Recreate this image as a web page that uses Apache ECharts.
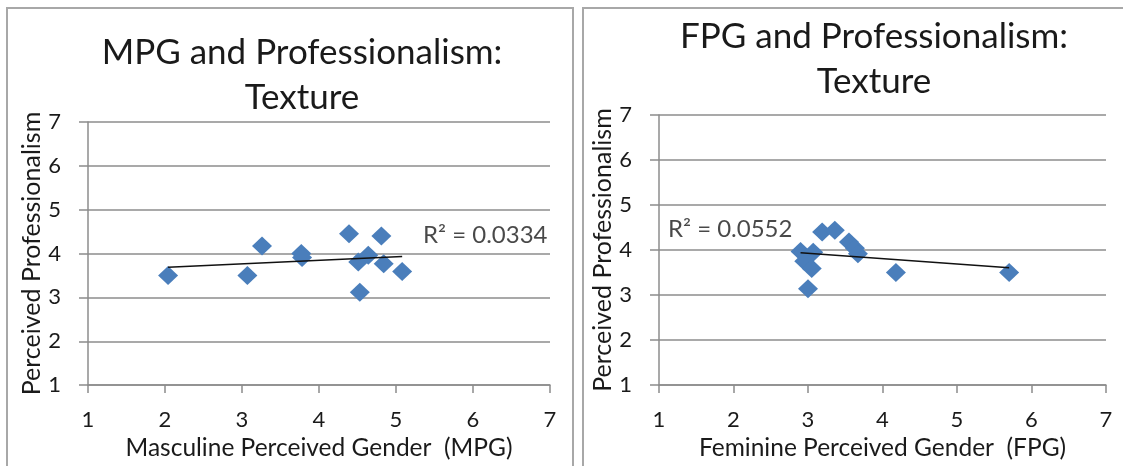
<!DOCTYPE html>
<html>
<head>
    <meta charset="utf-8">
    <title>Professionalism: Texture</title>
    <style>
        html, body { margin: 0; padding: 0; background: #fff; }
        #container { width: 1123px; height: 466px; }
    </style>
</head>
<body>
    <div id="container"></div>
</body>
<script src="https://cdn.jsdelivr.net/npm/echarts@6/dist/echarts.min.js"></script>
<script type="text/javascript">
    // masculine perceived gender vs professionalism
    var mpgX = [2.04, 3.07, 3.26, 3.77, 3.78, 4.39, 4.81, 4.51, 4.64, 4.53, 4.84, 5.08];
    var mpgY = [3.50, 3.50, 4.17, 4.00, 3.91, 4.45, 4.40, 3.81, 3.96, 3.12, 3.77, 3.59];
    // feminine perceived gender vs professionalism
    var fpgX = [5.70, 4.18, 3.00, 3.19, 3.36, 3.55, 3.63, 3.67, 2.90, 3.07, 2.95, 3.05];
    var fpgY = [3.50, 3.50, 3.14, 4.40, 4.44, 4.18, 4.04, 3.92, 3.97, 3.95, 3.75, 3.59];
    var r2Text = ['R\u00b2 = 0.0334', 'R\u00b2 = 0.0552'];
    var titles = ['MPG and Professionalism:\nTexture', 'FPG and Professionalism:\nTexture'];
    var xNames = ['Masculine Perceived Gender  (MPG)', 'Feminine Perceived Gender  (FPG)'];
    var yName = 'Perceived Professionalism';

    var FONT = 'Lato';
    var GRID_COLOR = '#8c8c8c';
    var TEXT_COLOR = '#1a1a1a';

    function pairs(xs, ys) {
        return xs.map(function (x, i) { return [x, ys[i]]; });
    }

    // least squares line across the range of the data
    function trend(xs, ys) {
        var n = xs.length, mx = 0, my = 0;
        for (var i = 0; i < n; i++) { mx += xs[i]; my += ys[i]; }
        mx /= n; my /= n;
        var sxy = 0, sxx = 0;
        for (var j = 0; j < n; j++) {
            sxy += (xs[j] - mx) * (ys[j] - my);
            sxx += (xs[j] - mx) * (xs[j] - mx);
        }
        var b = sxy / sxx, a = my - b * mx;
        var lo = Math.min.apply(null, xs), hi = Math.max.apply(null, xs);
        return [[lo, a + b * lo], [hi, a + b * hi]];
    }

    function xAxis(i) {
        return {
            gridIndex: i, type: 'value', min: 1, max: 7, interval: 1,
            name: xNames[i], nameLocation: 'middle', nameGap: 46,
            nameTextStyle: { fontFamily: FONT, fontSize: 24.5, color: TEXT_COLOR },
            axisLine: { lineStyle: { color: GRID_COLOR, width: 1.5 } },
            axisTick: { show: true, inside: false, length: 8, lineStyle: { color: GRID_COLOR, width: 1.5 } },
            axisLabel: { fontFamily: FONT, fontSize: 22, color: TEXT_COLOR, margin: 24 },
            splitLine: { show: false }
        };
    }

    function yAxis(i) {
        return {
            gridIndex: i, type: 'value', min: 1, max: 7, interval: 1,
            name: yName, nameLocation: 'middle', nameGap: 43, nameRotate: 90,
            nameTextStyle: { fontFamily: FONT, fontSize: 25, color: TEXT_COLOR },
            axisLine: { show: true, lineStyle: { color: GRID_COLOR, width: 1.5 } },
            axisTick: { show: true, inside: false, length: 9, lineStyle: { color: GRID_COLOR, width: 1.5 } },
            axisLabel: { fontFamily: FONT, fontSize: 22, color: TEXT_COLOR, margin: 27 },
            splitLine: { show: true, lineStyle: { color: GRID_COLOR, width: 1.5 } }
        };
    }

    function points(i, xs, ys) {
        return {
            type: 'scatter', xAxisIndex: i, yAxisIndex: i,
            symbol: 'diamond', symbolSize: [20, 19],
            itemStyle: { color: '#4a7ebb', opacity: 1 },
            data: pairs(xs, ys), z: 3
        };
    }

    function trendLine(i, xs, ys) {
        return {
            type: 'line', xAxisIndex: i, yAxisIndex: i,
            data: trend(xs, ys), symbol: 'none',
            lineStyle: { color: '#111', width: 1.5 }, z: 4
        };
    }

    function r2Label(i, at) {
        return {
            type: 'scatter', xAxisIndex: i, yAxisIndex: i,
            data: [at], symbolSize: 0, silent: true,
            label: {
                show: true, position: 'right', distance: 0,
                formatter: r2Text[i],
                fontFamily: FONT, fontSize: 24, color: TEXT_COLOR
            }
        };
    }

    var dom = document.getElementById('container');
    var myChart = echarts.init(dom);

    myChart.setOption({
        animation: false,
        backgroundColor: '#fff',
        title: [{
            text: titles[0], left: 297, top: 25, textAlign: 'center',
            textStyle: { fontFamily: FONT, fontSize: 35, fontWeight: 'normal', color: TEXT_COLOR, lineHeight: 45 }
        }, {
            text: titles[1], left: 869, top: 9, textAlign: 'center',
            textStyle: { fontFamily: FONT, fontSize: 35, fontWeight: 'normal', color: TEXT_COLOR, lineHeight: 45 }
        }],
        grid: [
            { left: 88, width: 462, top: 122, height: 266 },
            { left: 659, width: 447, top: 115, height: 273 }
        ],
        xAxis: [xAxis(0), xAxis(1)],
        yAxis: [yAxis(0), yAxis(1)],
        series: [
            points(0, mpgX, mpgY),
            trendLine(0, mpgX, mpgY),
            r2Label(0, [5.35, 4.41]),
            points(1, fpgX, fpgY),
            trendLine(1, fpgX, fpgY),
            r2Label(1, [1.12, 4.47])
        ],
        graphic: [
            { type: 'rect', shape: { x: 7, y: 8, width: 566, height: 480 },
              style: { fill: 'none', stroke: '#a8a8a8', lineWidth: 2 } },
            { type: 'rect', shape: { x: 583, y: 8, width: 560, height: 480 },
              style: { fill: 'none', stroke: '#a8a8a8', lineWidth: 2 } }
        ]
    });
</script>
</html>
